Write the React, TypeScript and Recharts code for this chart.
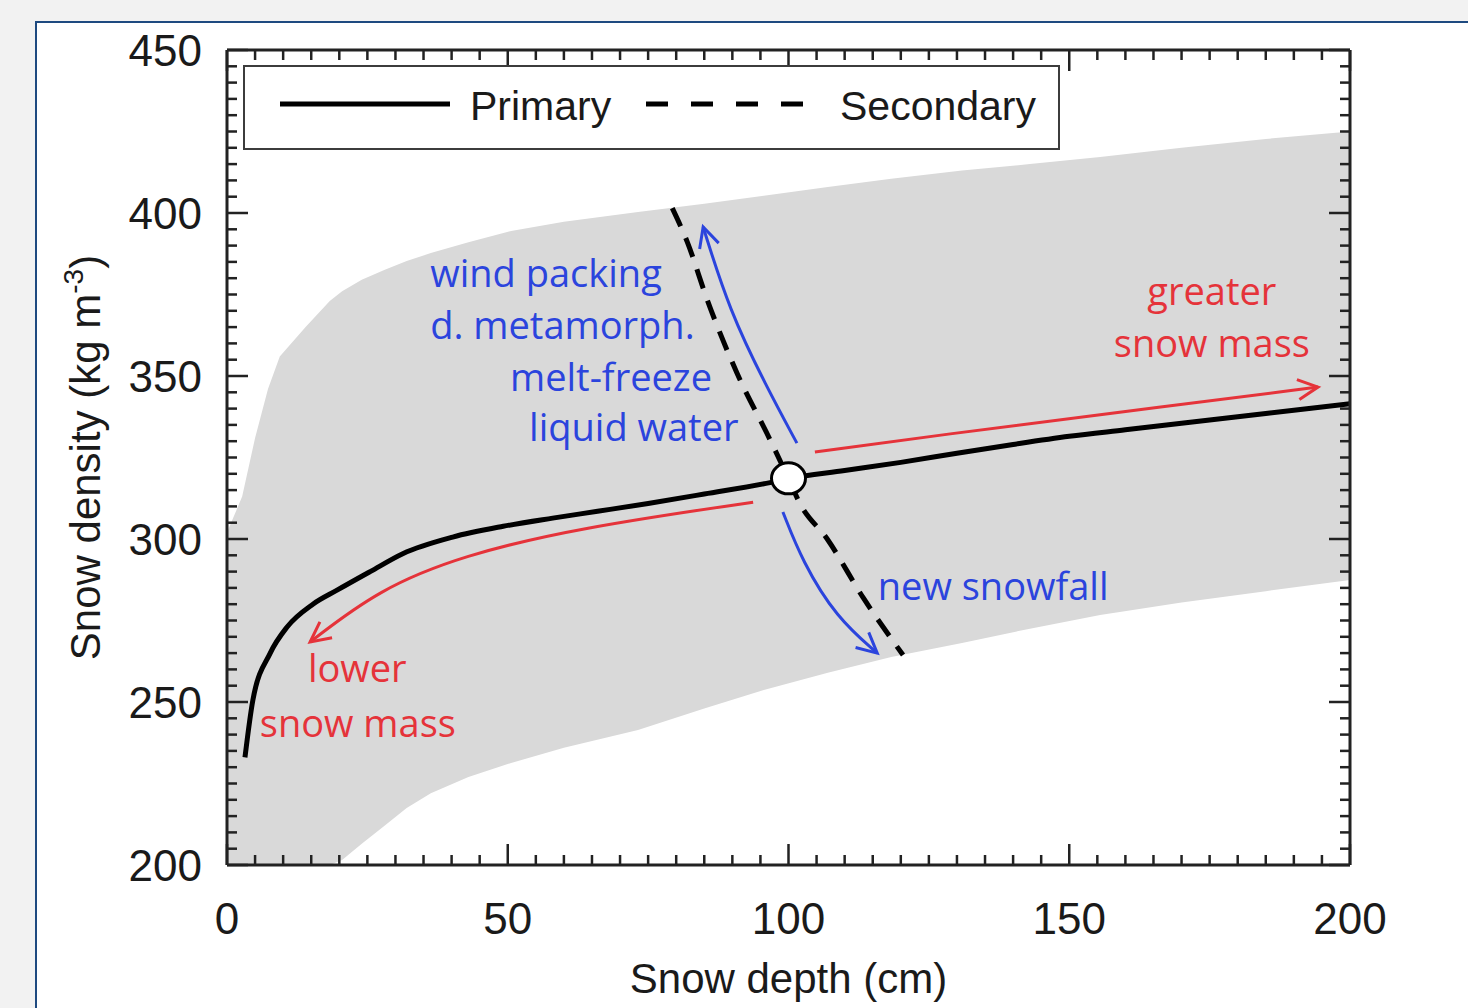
import React from 'react';
import { ComposedChart, Area, Line, Scatter, XAxis, YAxis, Legend } from 'recharts';

const W = 1468;
const H = 1008;

const AXIS = '#222222';
const BAND = '#d9d9d9';
const BLUE = '#2b44dd';
const RED = '#e5333a';
const SANS = '"Liberation Sans", Arial, Helvetica, sans-serif';
const NOTE_FONT = '"Open Sans", "Noto Sans", sans-serif';

// primary (solid) curve
const primaryDepth = [3.2, 4.6, 7.7, 10.7, 15.3, 19.6, 25.5, 31.3, 40.2, 49.2, 58, 66, 75, 85, 96.7, 100, 110, 120, 130, 140, 150, 160, 170, 180, 190, 200];
const primaryDensity = [233, 250.5, 265, 273, 280, 284.3, 290, 295.5, 300.6, 303.9, 306.4, 308.5, 310.9, 313.8, 317.3, 318.5, 321, 323.5, 326.3, 329, 331.5, 333.5, 335.5, 337.5, 339.5, 341.5];

// secondary (dashed) curve
const secondaryDepth = [79.3, 82, 85.5, 90.8, 96.7, 100, 102, 106.9, 113.3, 120.4];
const secondaryDensity = [401.5, 391, 373.5, 351, 330.5, 318.5, 311, 300, 282, 264.4];

// grey envelope
const bandDepth = [0, 2.7, 5, 7.3, 9.4, 14, 18.3, 20.5, 24, 28, 32, 36.3, 43, 50.6, 60, 73.2, 85, 95.6, 107, 118.3, 130.9, 143, 155.5, 170, 185, 200];
const bandLow = [200, 200, 200, 200, 200, 200, 200, 201.5, 206.5, 212, 217.5, 222, 227, 231.3, 236, 241.4, 248, 253.7, 259, 263.8, 268.1, 272.5, 276.7, 280.5, 284, 287.4];
const bandHigh = [302, 313, 331, 346, 356, 365, 373, 376, 379.5, 382.5, 385.3, 387.7, 391, 394.5, 397.3, 400.3, 402.8, 405.3, 408, 410.5, 413, 415, 417.2, 420, 422.7, 425];

// annotation arrows (start -> tip)
const upArrowDepth = [101.5, 96, 89.5, 84.8];
const upArrowDensity = [329.4, 347, 370, 395.7];
const downArrowDepth = [99, 102.5, 108.5, 115.8];
const downArrowDensity = [308.3, 293, 276, 265];
const rightArrowDepth = [104.7, 128.8, 153, 194.3];
const rightArrowDensity = [326.7, 332.3, 337.6, 346.6];
const leftArrowDepth = [93.7, 62.9, 42, 27, 14.8];
const leftArrowDensity = [311.3, 303.5, 295, 284.5, 268.4];

const crossing = [{ x: 100, y: 318.6 }];

const blueNotes = [
  { x: 36.2, y: 377.3, text: 'wind packing' },
  { x: 36.2, y: 361.3, text: 'd. metamorph.' },
  { x: 50.4, y: 345.4, text: 'melt-freeze' },
  { x: 53.8, y: 330.1, text: 'liquid water' },
  { x: 115.9, y: 281.3, text: 'new snowfall' },
];
const redNotes = [
  { x: 175.4, y: 371.8, text: 'greater' },
  { x: 175.4, y: 355.8, text: 'snow mass' },
  { x: 23.2, y: 256.1, text: 'lower' },
  { x: 23.3, y: 239.3, text: 'snow mass' },
];

const xMajor = [0, 50, 100, 150, 200];
const yMajor = [200, 250, 300, 350, 400, 450];
const xTicks = Array.from({ length: 41 }, (_, i) => i * 5);
const yTicks = Array.from({ length: 51 }, (_, i) => 200 + i * 5);

const zip = (xs: number[], ys: number[]) => xs.map((x, i) => ({ x, y: ys[i] }));

const primaryData = zip(primaryDepth, primaryDensity);
const secondaryData = zip(secondaryDepth, secondaryDensity);
const bandData = bandDepth.map((x, i) => ({ x, band: [bandLow[i], bandHigh[i]] }));
const upArrow = zip(upArrowDepth, upArrowDensity);
const downArrow = zip(downArrowDepth, downArrowDensity);
const rightArrow = zip(rightArrowDepth, rightArrowDensity);
const leftArrow = zip(leftArrowDepth, leftArrowDensity);

const MAJOR = 21;
const MINOR = 10;

const BottomTick = ({ x, y, payload }: any) => {
  const major = xMajor.includes(payload.value);
  return (
    <g>
      <line x1={x} y1={y} x2={x} y2={y - (major ? MAJOR : MINOR)} stroke={AXIS} strokeWidth={2.5} />
      {major && (
        <text x={x} y={y + 69} textAnchor="middle" fontSize={44} fontFamily={SANS} fill="#1a1a1a">
          {payload.value}
        </text>
      )}
    </g>
  );
};

const TopTick = ({ x, y, payload }: any) => {
  const major = xMajor.includes(payload.value);
  return <line x1={x} y1={y} x2={x} y2={y + (major ? MAJOR : MINOR)} stroke={AXIS} strokeWidth={2.5} />;
};

const LeftTick = ({ x, y, payload }: any) => {
  const major = yMajor.includes(payload.value);
  return (
    <g>
      <line x1={x} y1={y} x2={x + (major ? MAJOR : MINOR)} y2={y} stroke={AXIS} strokeWidth={2.5} />
      {major && (
        <text x={x - 25} y={y + 16} textAnchor="end" fontSize={44} fontFamily={SANS} fill="#1a1a1a">
          {payload.value}
        </text>
      )}
    </g>
  );
};

const RightTick = ({ x, y, payload }: any) => {
  const major = yMajor.includes(payload.value);
  return <line x1={x} y1={y} x2={x - (major ? MAJOR : MINOR)} y2={y} stroke={AXIS} strokeWidth={2.5} />;
};

const XTitle = ({ viewBox }: any) => (
  <text
    x={viewBox.x + viewBox.width / 2}
    y={viewBox.y + 128}
    textAnchor="middle"
    fontSize={42}
    fontFamily={SANS}
    fill="#1a1a1a"
  >
    Snow depth (cm)
  </text>
);

const YTitle = ({ viewBox }: any) => {
  const cx = viewBox.x + 100;
  const cy = viewBox.y + viewBox.height / 2;
  return (
    <text
      x={cx}
      y={cy}
      transform={`rotate(-90 ${cx} ${cy})`}
      textAnchor="middle"
      fontSize={42}
      fontFamily={SANS}
      fill="#1a1a1a"
    >
      Snow density (kg m
      <tspan dy={-17} fontSize={28}>-3</tspan>
      <tspan dy={17}>)</tspan>
    </text>
  );
};

const LegendBox = ({ payload }: any) => {
  const items = (payload || []).filter((e: any) => e.value === 'Primary' || e.value === 'Secondary');
  return (
    <div
      style={{
        boxSizing: 'border-box',
        width: 817,
        height: 85,
        border: '2px solid #3c3c3c',
        background: '#ffffff',
        position: 'relative',
      }}
    >
      <svg width={813} height={81} style={{ position: 'absolute', left: 0, top: 0 }}>
        {items.map((entry: any, i: number) => {
          const x0 = i === 0 ? 35 : 401;
          const len = i === 0 ? 170 : 174;
          return (
            <g key={entry.value}>
              <line
                x1={x0}
                x2={x0 + len}
                y1={37}
                y2={37}
                stroke="#000"
                strokeWidth={5}
                strokeDasharray={entry.value === 'Secondary' ? '22 23' : undefined}
              />
              <text x={x0 + len + 20} y={53} fontSize={41} fontFamily={SANS} fill="#1a1a1a">
                {entry.value}
              </text>
            </g>
          );
        })}
      </svg>
    </div>
  );
};

const NoteStart = (color: string) => (p: any) => (
  <text x={p.cx} y={p.cy} textAnchor="start" fontSize={38} fontFamily={NOTE_FONT} fill={color}>
    {p.payload.text}
  </text>
);
const NoteMiddle = (color: string) => (p: any) => (
  <text x={p.cx} y={p.cy} textAnchor="middle" fontSize={38} fontFamily={NOTE_FONT} fill={color}>
    {p.payload.text}
  </text>
);

const Crossing = (p: any) => (
  <ellipse cx={p.cx} cy={p.cy} rx={17} ry={15.5} fill="#ffffff" stroke="#000" strokeWidth={3} />
);

export default function App() {
  return (
    <div style={{ position: 'absolute', left: 0, top: 0, width: W, height: H, overflow: 'hidden', background: '#f2f2f2' }}>
      <div
        style={{
          position: 'absolute',
          left: 35,
          top: 21,
          width: 1500,
          height: 985,
          border: '2px solid #1e4a80',
          background: '#ffffff',
        }}
      />
      <div style={{ position: 'absolute', left: 0, top: 0 }}>
        <ComposedChart width={W} height={H} margin={{ top: 0, right: 0, bottom: 0, left: 0 }}>
          <defs>
            <marker id="headBlue" markerUnits="userSpaceOnUse" markerWidth={30} markerHeight={30} viewBox="0 0 30 30" refX={26} refY={15} orient="auto">
              <path d="M6,5 L26,15 L6,25" fill="none" stroke={BLUE} strokeWidth={3} />
            </marker>
            <marker id="headRed" markerUnits="userSpaceOnUse" markerWidth={30} markerHeight={30} viewBox="0 0 30 30" refX={26} refY={15} orient="auto">
              <path d="M6,5 L26,15 L6,25" fill="none" stroke={RED} strokeWidth={3} />
            </marker>
          </defs>

          <Area
            data={bandData}
            dataKey="band"
            type="linear"
            stroke="none"
            fill={BAND}
            fillOpacity={1}
            isAnimationActive={false}
            legendType="none"
            activeDot={false}
          />
          <Line
            data={leftArrow}
            dataKey="y"
            type="basis"
            stroke={RED}
            strokeWidth={3}
            dot={false}
            activeDot={false}
            markerEnd="url(#headRed)"
            isAnimationActive={false}
            legendType="none"
          />
          <Line
            data={rightArrow}
            dataKey="y"
            type="basis"
            stroke={RED}
            strokeWidth={3}
            dot={false}
            activeDot={false}
            markerEnd="url(#headRed)"
            isAnimationActive={false}
            legendType="none"
          />
          <Line
            data={upArrow}
            dataKey="y"
            type="basis"
            stroke={BLUE}
            strokeWidth={3}
            dot={false}
            activeDot={false}
            markerEnd="url(#headBlue)"
            isAnimationActive={false}
            legendType="none"
          />
          <Line
            data={downArrow}
            dataKey="y"
            type="basis"
            stroke={BLUE}
            strokeWidth={3}
            dot={false}
            activeDot={false}
            markerEnd="url(#headBlue)"
            isAnimationActive={false}
            legendType="none"
          />
          <Line
            name="Primary"
            data={primaryData}
            dataKey="y"
            type="monotone"
            stroke="#000"
            strokeWidth={5}
            dot={false}
            activeDot={false}
            isAnimationActive={false}
          />
          <Line
            name="Secondary"
            data={secondaryData}
            dataKey="y"
            type="monotone"
            stroke="#000"
            strokeWidth={5}
            strokeDasharray="20 13"
            dot={false}
            activeDot={false}
            isAnimationActive={false}
          />
          <Scatter data={crossing} dataKey="y" shape={Crossing} isAnimationActive={false} legendType="none" />
          <Scatter data={blueNotes} dataKey="y" shape={NoteStart(BLUE)} isAnimationActive={false} legendType="none" />
          <Scatter data={redNotes} dataKey="y" shape={NoteMiddle(RED)} isAnimationActive={false} legendType="none" />

          <XAxis
            dataKey="x"
            type="number"
            domain={[0, 200]}
            allowDataOverflow
            ticks={xTicks}
            interval={0}
            height={143}
            tickSize={0}
            tickMargin={0}
            tickLine={false}
            tick={<BottomTick />}
            axisLine={{ stroke: AXIS, strokeWidth: 3 }}
            label={{ content: (p: any) => <XTitle viewBox={p.viewBox} /> }}
          />
          <XAxis
            xAxisId="top"
            orientation="top"
            dataKey="x"
            type="number"
            domain={[0, 200]}
            allowDataOverflow
            ticks={xTicks}
            interval={0}
            height={50}
            tickSize={0}
            tickMargin={0}
            tickLine={false}
            tick={<TopTick />}
            axisLine={{ stroke: AXIS, strokeWidth: 3 }}
          />
          <YAxis
            type="number"
            domain={[200, 450]}
            allowDataOverflow
            ticks={yTicks}
            interval={0}
            width={227}
            tickSize={0}
            tickMargin={0}
            tickLine={false}
            tick={<LeftTick />}
            axisLine={{ stroke: AXIS, strokeWidth: 3 }}
            label={{ content: (p: any) => <YTitle viewBox={p.viewBox} /> }}
          />
          <YAxis
            yAxisId="right"
            orientation="right"
            type="number"
            domain={[200, 450]}
            allowDataOverflow
            ticks={yTicks}
            interval={0}
            width={118}
            tickSize={0}
            tickMargin={0}
            tickLine={false}
            tick={<RightTick />}
            axisLine={{ stroke: AXIS, strokeWidth: 3 }}
          />
          <Legend
            layout="horizontal"
            verticalAlign="middle"
            align="center"
            content={<LegendBox />}
            wrapperStyle={{ left: 243, top: 65, width: 817, height: 85 }}
          />
        </ComposedChart>
      </div>
    </div>
  );
}
